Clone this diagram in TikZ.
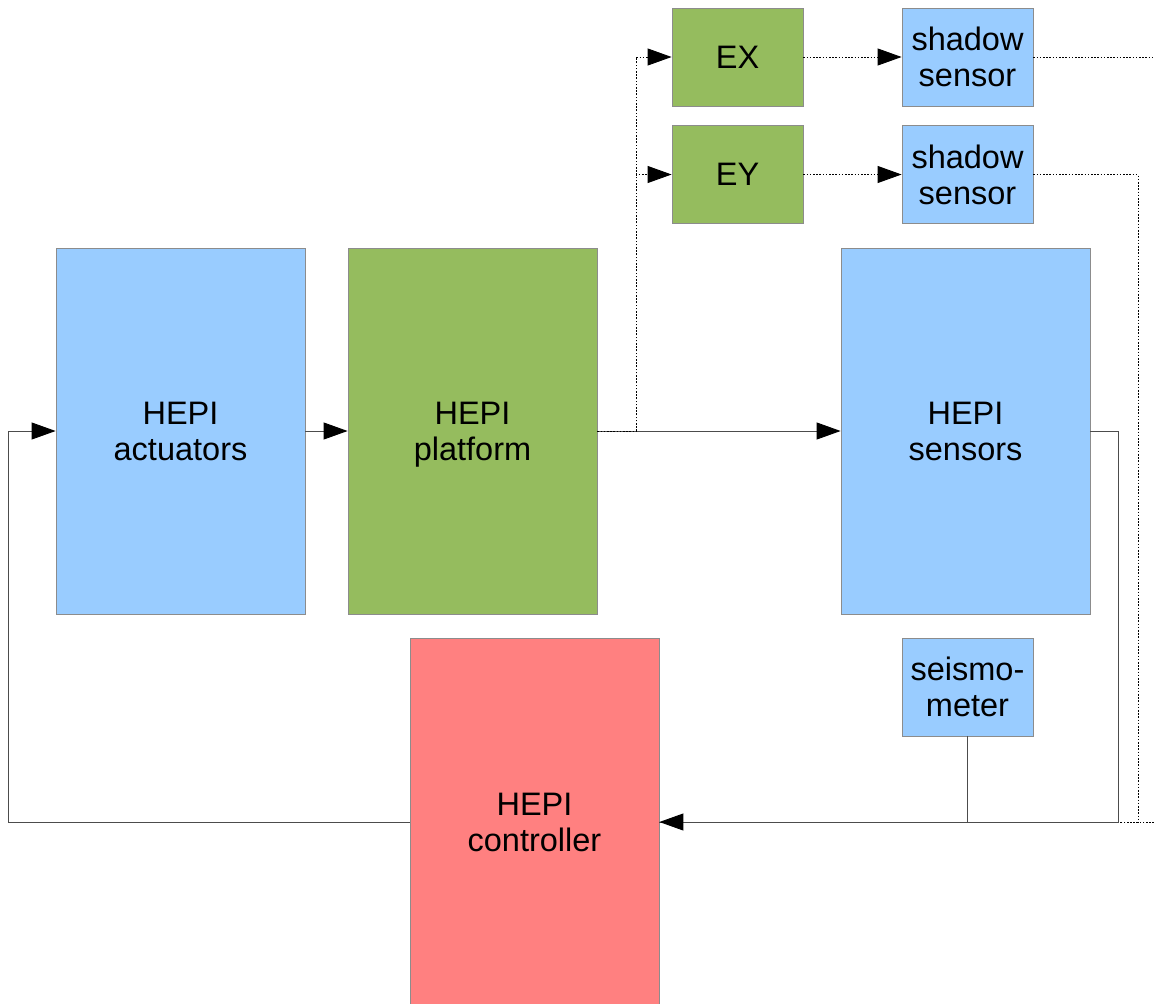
\documentclass[tikz,border=0pt]{standalone}
\usepackage{fontspec}
\setmainfont{Liberation Sans}
\usetikzlibrary{arrows.meta}
\definecolor{boxblue}{HTML}{99CCFF}
\definecolor{boxgreen}{HTML}{95BC5E}
\definecolor{boxred}{HTML}{FF8080}
\tikzset{
	block/.style={draw=black!45, line width=0.8pt, minimum width=249pt, minimum height=366pt,
		inner sep=0pt, align=center, font=\fontsize{32.5}{36}\selectfont},
	smallblock/.style={block, minimum width=131pt, minimum height=98pt},
	link/.style={line width=0.9pt, draw=black!70},
	dotlink/.style={line width=0.9pt, draw=black, dash pattern=on 1.6pt off 1.6pt},
	tip/.style={-{Triangle[length=24pt,width=17pt,color=black,fill=black]}}
}
\begin{document}
\begin{tikzpicture}[x=1pt, y=-1pt]
		\useasboundingbox (0,0) rectangle (1154,1004);
		% main loop
		\node[block, fill=boxblue] (act) at (180.5,431) {HEPI\\actuators};
		\node[block, fill=boxgreen] (plat) at (472.5,431) {HEPI\\\smash{platform}};
		\node[block, fill=boxblue] (sens) at (965.5,431) {HEPI\\sensors};
		\node[block, fill=boxred, minimum height=368pt] (ctrl) at (534.5,822) {HEPI\\controller};
		% small boxes
		\foreach \name/\y/\txt in {ex/57/EX, ey/174.5/EY}{
			\node[smallblock, fill=boxgreen] (\name) at (737.5,\y) {\txt};}
		\foreach \name/\y in {sha/57, shb/174.5}{
			\node[smallblock, fill=boxblue] (\name) at (967.5,\y) {shadow\\sensor};}
		\node[smallblock, fill=boxblue] (seis) at (967.5,687) {seismo-\\meter};
		\coordinate (split) at (636,431);
		\coordinate (edgeA) at (1154,57);
		\coordinate (edgeB) at (1154,822);
		% connectors
		\draw[link, tip] (ctrl.west) -- (8,822) |- (act.west);
		\draw[link, tip] (act.east) -- (plat.west);
		\draw[link, tip] (plat.east) -- (sens.west);
		\draw[dotlink] (plat.east) -- (split);
		\draw[dotlink, tip] (split) |- (ex.west);
		\draw[dotlink, tip] (split) |- (ey.west);
		\draw[dotlink, tip] (ex) -- (sha);
		\draw[dotlink, tip] (ey) -- (shb);
		\draw[dotlink] (sha.east) -- (edgeA);
		\draw[dotlink] (edgeB) -- (ctrl.east);
		\draw[dotlink] (shb.east) -| (1138,822) -- (ctrl.east);
		\draw[link] (seis.south) |- (ctrl.east);
		\draw[link, tip] (sens.east) -- (1118,431) |- (ctrl.east);
		\end{tikzpicture}
\end{document}
